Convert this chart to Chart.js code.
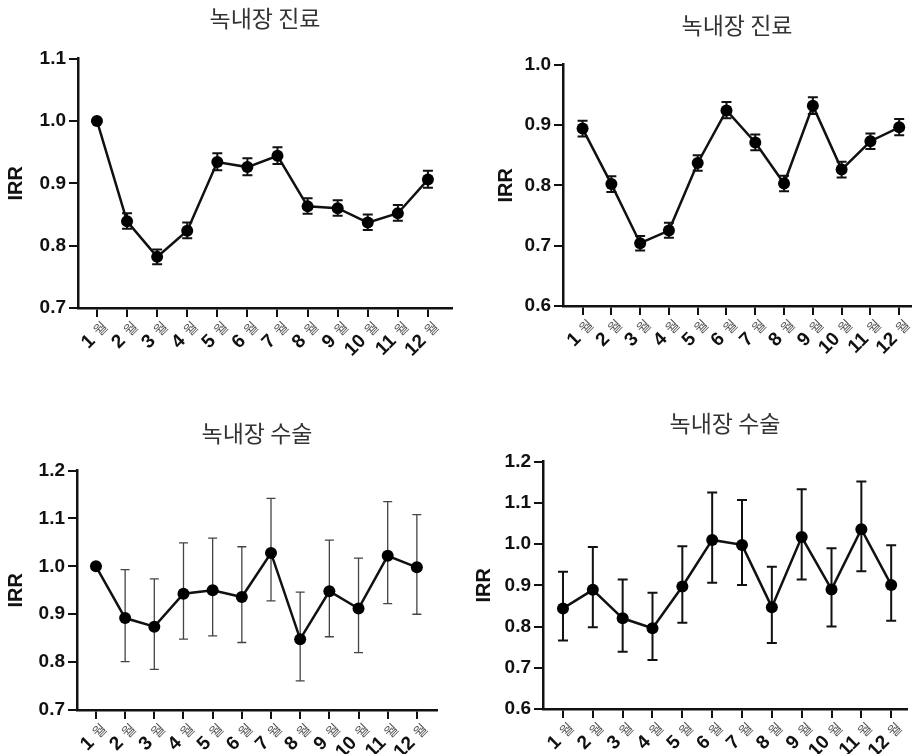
<!DOCTYPE html>
<html>
<head>
<meta charset="utf-8">
<script src="https://cdn.jsdelivr.net/npm/chart.js@4"></script>
<style>
  body { margin: 0; background: #fff; width: 917px; height: 754px; position: relative; overflow: hidden; }
  canvas { position: absolute; }
</style>
</head>
<body>
<canvas id="c1" width="460" height="380" style="left:0;top:0"></canvas>
<canvas id="c2" width="457" height="380" style="left:460px;top:0"></canvas>
<canvas id="c3" width="460" height="374" style="left:0;top:380px"></canvas>
<canvas id="c4" width="457" height="374" style="left:460px;top:380px"></canvas>
<script>
// months on the x axis
var months = ['1', '2', '3', '4', '5', '6', '7', '8', '9', '10', '11', '12'];
var monthSuffix = '월';

// 녹내장 진료 (left)
var careA = [1.000, 0.839, 0.782, 0.824, 0.934, 0.926, 0.944, 0.863, 0.860, 0.837, 0.852, 0.906];
var careALow = [null, 0.827, 0.770, 0.812, 0.921, 0.913, 0.931, 0.851, 0.848, 0.825, 0.840, 0.893];
var careAHigh = [null, 0.852, 0.794, 0.837, 0.948, 0.940, 0.958, 0.876, 0.873, 0.850, 0.865, 0.920];

// 녹내장 진료 (right)
var careB = [0.894, 0.802, 0.704, 0.725, 0.837, 0.924, 0.871, 0.803, 0.932, 0.826, 0.873, 0.896];
var careBLow = [0.881, 0.789, 0.692, 0.713, 0.824, 0.911, 0.858, 0.790, 0.918, 0.813, 0.860, 0.883];
var careBHigh = [0.907, 0.815, 0.716, 0.738, 0.850, 0.938, 0.884, 0.816, 0.946, 0.839, 0.886, 0.910];

// 녹내장 수술 (left)
var surgA = [1.000, 0.892, 0.874, 0.943, 0.950, 0.936, 1.028, 0.848, 0.948, 0.912, 1.022, 0.998];
var surgALow = [null, 0.801, 0.785, 0.848, 0.855, 0.841, 0.928, 0.761, 0.853, 0.820, 0.922, 0.900];
var surgAHigh = [null, 0.993, 0.974, 1.049, 1.059, 1.041, 1.142, 0.946, 1.055, 1.017, 1.135, 1.108];

// 녹내장 수술 (right)
var surgB = [0.844, 0.889, 0.820, 0.796, 0.897, 1.010, 0.998, 0.847, 1.017, 0.890, 1.036, 0.901];
var surgBLow = [0.766, 0.798, 0.739, 0.719, 0.809, 0.906, 0.901, 0.760, 0.914, 0.800, 0.934, 0.814];
var surgBHigh = [0.933, 0.993, 0.914, 0.882, 0.995, 1.125, 1.107, 0.945, 1.133, 0.990, 1.152, 0.997];

var numFont = 'Liberation Sans, Arial, sans-serif';
var krFont = '"Noto Sans CJK KR", sans-serif';

// error bar settings per canvas
var errorBarInfo = {};

var errorBarPlugin = {
  id: 'irrErrorBars',
  beforeDatasetsDraw: function(chart) {
    var info = errorBarInfo[chart.canvas.id];
    if (!info) return;
    var ctx = chart.ctx, xs = chart.scales.x, ys = chart.scales.y;
    ctx.save();
    ctx.strokeStyle = info.color;
    ctx.lineWidth = info.width;
    info.low.forEach(function(lo, i) {
      if (lo === null) return;
      var x = xs.getPixelForValue(i + 1);
      var y1 = ys.getPixelForValue(lo);
      var y2 = ys.getPixelForValue(info.high[i]);
      ctx.beginPath();
      ctx.moveTo(x, y1); ctx.lineTo(x, y2);
      ctx.moveTo(x - info.cap, y1); ctx.lineTo(x + info.cap, y1);
      ctx.moveTo(x - info.cap, y2); ctx.lineTo(x + info.cap, y2);
      ctx.stroke();
    });
    ctx.restore();
  }
};

// rotated "N 월" labels under the x axis
var monthLabelPlugin = {
  id: 'monthLabels',
  afterDraw: function(chart) {
    var ctx = chart.ctx, xs = chart.scales.x;
    ctx.save();
    months.forEach(function(m, i) {
      var x = xs.getPixelForValue(i + 1);
      ctx.save();
      ctx.translate(x + 8, xs.top + 16);
      ctx.rotate(-Math.PI / 4);
      ctx.textAlign = 'right';
      ctx.textBaseline = 'middle';
      ctx.font = '14px ' + krFont;
      ctx.fillStyle = '#555';
      ctx.fillText(monthSuffix, 0, 0);
      var w = ctx.measureText(monthSuffix).width;
      ctx.font = 'bold 19px ' + numFont;
      ctx.fillStyle = '#111';
      ctx.fillText(m, -w - 6, 1);
      ctx.restore();
    });
    ctx.restore();
  }
};

function makeChart(id, opts) {
  errorBarInfo[id] = { low: opts.low, high: opts.high, color: opts.barColor, width: opts.barWidth, cap: opts.cap };
  var points = opts.values.map(function(v, i) { return { x: i + 1, y: v }; });
  return new Chart(document.getElementById(id), {
    type: 'line',
    data: {
      datasets: [{
        data: points,
        borderColor: '#111',
        borderWidth: 2.5,
        pointRadius: 6,
        pointBackgroundColor: '#000',
        pointBorderWidth: 0,
        tension: 0
      }]
    },
    options: {
      responsive: false,
      animation: false,
      layout: { padding: { left: opts.padLeft, right: opts.padRight, top: 0, bottom: 0 } },
      plugins: {
        legend: { display: false },
        tooltip: { enabled: false },
        title: {
          display: true,
          text: opts.title,
          fullSize: false,
          color: '#333',
          font: { family: krFont, size: 23, weight: 'normal' },
          padding: { top: opts.titleTop, bottom: opts.titleBottom }
        }
      },
      scales: {
        x: {
          type: 'linear',
          min: opts.xMin,
          max: opts.xMax,
          afterBuildTicks: function(scale) {
            scale.ticks = months.map(function(m, i) { return { value: i + 1 }; });
          },
          afterFit: function(scale) { scale.height = opts.xHeight; },
          ticks: { display: false },
          grid: { drawOnChartArea: false, drawTicks: true, tickLength: 9, color: '#111', lineWidth: 2 },
          border: { display: true, color: '#111', width: 2.5 }
        },
        y: {
          min: opts.yMin,
          max: opts.yMax,
          afterFit: function(scale) { scale.width = opts.yWidth; },
          ticks: {
            stepSize: 0.1,
            padding: 3,
            color: '#111',
            font: { family: numFont, size: 19, weight: 'bold' },
            callback: function(v) { return v.toFixed(1); }
          },
          grid: { drawOnChartArea: false, drawTicks: true, tickLength: 9, color: '#111', lineWidth: 2 },
          border: { display: true, color: '#111', width: 2.5 },
          title: {
            display: true,
            text: 'IRR',
            color: '#111',
            font: { family: numFont, size: 20, weight: 'bold' },
            padding: { top: 4, bottom: 0 }
          }
        }
      }
    },
    plugins: [errorBarPlugin, monthLabelPlugin]
  });
}

makeChart('c1', {
  title: '녹내장 진료', values: careA, low: careALow, high: careAHigh,
  barColor: '#111', barWidth: 2, cap: 5,
  yMin: 0.7, yMax: 1.1, xMin: 0.37, xMax: 12.8,
  padLeft: 0, padRight: 8, yWidth: 78, xHeight: 72, titleTop: 4, titleBottom: 27
});

makeChart('c2', {
  title: '녹내장 진료', values: careB, low: careBLow, high: careBHigh,
  barColor: '#111', barWidth: 2, cap: 5,
  yMin: 0.6, yMax: 1.0, xMin: 0.32, xMax: 12.41,
  padLeft: 30, padRight: 0, yWidth: 73, xHeight: 74, titleTop: 11, titleBottom: 26
});

makeChart('c3', {
  title: '녹내장 수술', values: surgA, low: surgALow, high: surgAHigh,
  barColor: '#444', barWidth: 1.3, cap: 4.5,
  yMin: 0.7, yMax: 1.2, xMin: 0.35, xMax: 12.69,
  padLeft: 0, padRight: 23, yWidth: 77, xHeight: 44, titleTop: 39, titleBottom: 24
});

makeChart('c4', {
  title: '녹내장 수술', values: surgB, low: surgBLow, high: surgBHigh,
  barColor: '#111', barWidth: 2, cap: 5,
  yMin: 0.6, yMax: 1.2, xMin: 0.33, xMax: 12.53,
  padLeft: 8, padRight: 10, yWidth: 75, xHeight: 45, titleTop: 29, titleBottom: 25
});
</script>
</body>
</html>
